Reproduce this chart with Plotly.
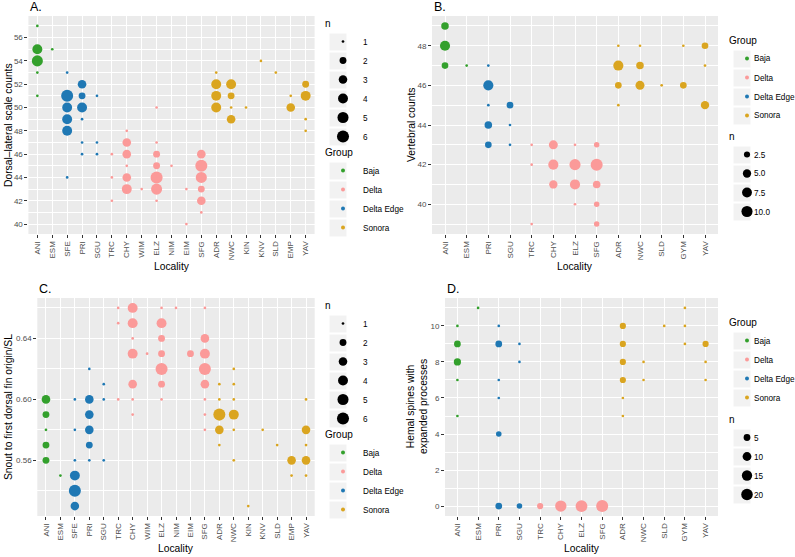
import math
import plotly.graph_objects as go

W, H = 795, 557
FONT = "Liberation Sans, Arial, Helvetica, sans-serif"

# ---------------- data ----------------
loc_19 = ["ANI", "ESM", "SFE", "PRI", "SGU", "TRC", "CHY", "WIM", "ELZ", "NIM",
          "EIM", "SFG", "ADR", "NWC", "KIN", "KNV", "SLD", "EMP", "YAV"]
loc_13 = ["ANI", "ESM", "PRI", "SGU", "TRC", "CHY", "ELZ", "SFG", "ADR", "NWC",
          "SLD", "GYM", "YAV"]

group_of = {"ANI": "Baja", "ESM": "Baja",
            "SFE": "Delta Edge", "PRI": "Delta Edge", "SGU": "Delta Edge",
            "TRC": "Delta", "CHY": "Delta", "WIM": "Delta", "ELZ": "Delta",
            "NIM": "Delta", "EIM": "Delta", "SFG": "Delta",
            "ADR": "Sonora", "NWC": "Sonora", "KIN": "Sonora", "KNV": "Sonora",
            "SLD": "Sonora", "EMP": "Sonora", "YAV": "Sonora", "GYM": "Sonora"}
group_names = ["Baja", "Delta", "Delta Edge", "Sonora"]
group_colors = ["#33A02C", "#FB9A99", "#1F78B4", "#DAA520"]

# A. Dorsal-lateral scale counts
a_loc = ["ANI"] * 5 + ["ESM"] + ["SFE"] * 6 + ["PRI"] * 6 + ["SGU"] * 3 + ["TRC"] * 3 + \
        ["CHY"] * 6 + ["WIM"] + ["ELZ"] * 7 + ["NIM"] + ["EIM"] * 2 + ["SFG"] * 6 + \
        ["ADR"] * 4 + ["NWC"] * 4 + ["KIN"] + ["KNV"] + ["SLD"] + ["EMP"] * 2 + ["YAV"] * 4
a_val = [57, 55, 54, 53, 51,
         55,
         53, 51, 50, 49, 48, 44,
         52, 51, 50, 49, 47, 46,
         51, 47, 46,
         46, 44, 42,
         48, 47, 46, 45, 44, 43,
         43,
         50, 47, 46, 45, 44, 43, 42,
         45,
         43, 40,
         46, 45, 44, 43, 42, 41,
         53, 52, 51, 50,
         52, 51, 50, 49,
         50,
         54,
         53,
         51, 50,
         52, 51, 49, 48]
a_n = [1, 4, 5, 1, 1,
       1,
       1, 6, 4, 4, 4, 1,
       3, 2, 4, 1, 1, 1,
       1, 1, 1,
       1, 1, 1,
       1, 3, 3, 1, 3, 4,
       1,
       1, 1, 2, 2, 6, 5, 1,
       1,
       1, 1,
       3, 6, 5, 2, 3, 1,
       1, 4, 4, 4,
       4, 2, 1, 3,
       1,
       1,
       1,
       1, 3,
       2, 4, 1, 1]

# B. Vertebral counts
b_loc = ["ANI"] * 3 + ["ESM"] + ["PRI"] * 5 + ["SGU"] * 3 + ["TRC"] * 3 + ["CHY"] * 3 + \
        ["ELZ"] * 4 + ["SFG"] * 5 + ["ADR"] * 4 + ["NWC"] * 3 + ["SLD"] + ["GYM"] * 2 + ["YAV"] * 3
b_val = [49, 48, 47,
         47,
         47, 46, 45, 44, 43,
         45, 44, 43,
         43, 42, 39,
         43, 42, 41,
         43, 42, 41, 40,
         43, 42, 41, 40, 39,
         48, 47, 46, 45,
         48, 47, 46,
         46,
         48, 46,
         48, 47, 45]
b_n = [4, 8, 3,
       1,
       1, 8, 1, 4, 3,
       3, 1, 1,
       1, 1, 1,
       6, 8, 5,
       1, 10, 8, 1,
       2, 12, 4, 2, 2,
       1, 8, 3, 1,
       1, 4, 6,
       1,
       1, 3,
       3, 1, 5]

# C. Snout to first dorsal fin origin / SL
c_loc = ["ANI"] * 5 + ["ESM"] + ["SFE"] * 6 + ["PRI"] * 6 + ["SGU"] * 3 + ["TRC"] * 3 + \
        ["CHY"] * 7 + ["WIM"] + ["ELZ"] * 7 + ["NIM"] + ["EIM"] + ["SFG"] * 8 + \
        ["ADR"] * 5 + ["NWC"] * 6 + ["KIN"] + ["KNV"] + ["SLD"] + ["EMP"] * 2 + ["YAV"] * 5
c_val = [0.60, 0.59, 0.58, 0.57, 0.56,
         0.55,
         0.60, 0.58, 0.56, 0.55, 0.54, 0.53,
         0.62, 0.60, 0.59, 0.58, 0.57, 0.56,
         0.61, 0.60, 0.56,
         0.66, 0.65, 0.60,
         0.66, 0.65, 0.64, 0.63, 0.61, 0.60, 0.59,
         0.63,
         0.66, 0.65, 0.64, 0.63, 0.62, 0.61, 0.60,
         0.66,
         0.63,
         0.66, 0.64, 0.63, 0.62, 0.61, 0.60, 0.59, 0.58,
         0.61, 0.60, 0.59, 0.58, 0.57,
         0.62, 0.61, 0.60, 0.59, 0.58, 0.56,
         0.53,
         0.58,
         0.57,
         0.56, 0.55,
         0.60, 0.58, 0.57, 0.56, 0.55]
c_n = [3, 2, 1, 2, 2,
       1,
       1, 1, 1, 4, 6, 3,
       1, 3, 3, 3, 2, 1,
       1, 1, 1,
       1, 1, 1,
       4, 4, 1, 4, 3, 1, 1,
       1,
       1, 4, 2, 2, 6, 2, 1,
       1,
       2,
       1, 3, 4, 6, 3, 1, 1, 1,
       1, 1, 6, 3, 1,
       1, 1, 1, 4, 1, 1,
       1,
       1,
       1,
       3, 1,
       1, 3, 1, 3, 1]

# D. Hemal spines with expanded processes
d_loc = ["ANI"] * 5 + ["ESM"] + ["PRI"] * 6 + ["SGU"] * 3 + ["TRC"] + ["CHY"] + ["ELZ"] + \
        ["SFG"] + ["ADR"] * 6 + ["NWC"] * 2 + ["SLD"] + ["GYM"] * 3 + ["YAV"] * 3
d_val = [10, 9, 8, 7, 5,
         11,
         10, 9, 7, 6, 4, 0,
         9, 8, 0,
         0,
         0,
         0,
         0,
         10, 9, 8, 7, 6, 5,
         8, 7,
         10,
         11, 10, 9,
         9, 8, 7]
d_n = [1, 5, 6, 1, 1,
       1,
       1, 5, 1, 1, 3, 5,
       1, 1, 3,
       4,
       19,
       21,
       22,
       4, 4, 4, 4, 1, 1,
       1, 1,
       1,
       1, 1, 1,
       4, 1, 1]

n_breaks_a = [1, 2, 3, 4, 5, 6]
n_breaks_b = [2.5, 5.0, 7.5, 10.0]
n_labels_b = ["2.5", "5.0", "7.5", "10.0"]
n_breaks_c = [1, 2, 3, 4, 5, 6]
n_breaks_d = [5, 10, 15, 20]


# ---------------- helpers ----------------
def diam(n, lo, hi):
    s = 1 + 5 * math.sqrt((n - lo) / (hi - lo))
    return 1.87 * s + 0.8


def px_x(p):
    return p / W


def px_y(p):
    return 1 - p / H


LEG_FONT = 8.2
ITEM_H = 19      # plotly legend row height for small fonts
FIRST_OFF = 28   # legend top -> first key centre
KEY_OFF = 15     # legend x -> key centre
LABEL_GAP = 10   # key centre -> label start (for annotation labels)

panels = [
    dict(key="A", cats=loc_19, loc=a_loc, val=a_val, n=a_n,
         box=(28.4, 314.6, 16, 234), dt=2, mdt=1, fmt="d",
         ytitle="Dorsal\u2013lateral scale counts", ytx=8,
         nbreaks=n_breaks_a, nlabels=[str(v) for v in n_breaks_a],
         first="n", lx=323, ly1=14, ly2=143, native=True),
    dict(key="B", cats=loc_13, loc=b_loc, val=b_val, n=b_n,
         box=(432, 718, 16, 234), dt=2, mdt=1, fmt="d",
         ytitle="Vertebral counts", ytx=411,
         nbreaks=n_breaks_b, nlabels=n_labels_b,
         first="g", lx=727, ly1=31, ly2=127, native=False),
    dict(key="C", cats=loc_19, loc=c_loc, val=c_val, n=c_n,
         box=(37.3, 314.7, 298, 516), dt=0.04, mdt=0.02, fmt=".2f",
         ytitle="Snout to first dorsal fin origin/SL", ytx=8,
         nbreaks=n_breaks_c, nlabels=[str(v) for v in n_breaks_c],
         first="n", lx=323, ly1=296, ly2=425, native=True),
    dict(key="D", cats=loc_13, loc=d_loc, val=d_val, n=d_n,
         box=(445, 718, 298, 516), dt=2, mdt=1, fmt="d",
         ytitle="Hemal spines with<br>expanded processes", ytx=417,
         nbreaks=n_breaks_d, nlabels=[str(v) for v in n_breaks_d],
         first="g", lx=727, ly1=313, ly2=410, native=False),
]

fig = go.Figure()
layout = dict(template="none", width=W, height=H, autosize=False,
              margin=dict(l=0, r=0, t=0, b=0, pad=0, autoexpand=False),
              paper_bgcolor="white", plot_bgcolor="#EBEBEB",
              font=dict(family=FONT, color="#000000"), showlegend=True,
              annotations=[], shapes=[])


def legend_block(p, leg_id, y_top, title, labels, markers, xa, ya):
    """Add one legend (keys via plotly legend, optional annotation labels)."""
    for k, (lab, mk) in enumerate(zip(labels, markers)):
        fig.add_trace(go.Scatter(
            x=[None], y=[None], mode="markers", xaxis=xa, yaxis=ya,
            name=lab if p["native"] else "", legend=leg_id, marker=mk,
            hoverinfo="skip"))
        ky = y_top + FIRST_OFF + ITEM_H * k
        kx = p["lx"] + KEY_OFF
        layout["shapes"].append(dict(
            type="rect", xref="paper", yref="paper", layer="below",
            x0=px_x(kx - 8.5), x1=px_x(kx + 8.5), y0=px_y(ky + 8.5), y1=px_y(ky - 8.5),
            fillcolor="#F2F2F2", line=dict(width=0)))
        if not p["native"]:
            layout["annotations"].append(dict(
                text=lab, x=px_x(kx + LABEL_GAP), y=px_y(ky), xref="paper", yref="paper",
                xanchor="left", yanchor="middle", showarrow=False,
                font=dict(size=LEG_FONT, family=FONT, color="black")))
    layout[leg_id] = dict(
        x=px_x(p["lx"]), y=px_y(y_top), xanchor="left", yanchor="top",
        bgcolor="rgba(0,0,0,0)", borderwidth=0, itemsizing="trace",
        font=dict(size=LEG_FONT, family=FONT, color="#000000"),
        traceorder="normal", itemclick=False, itemdoubleclick=False,
        title=dict(text=title, font=dict(size=10, family=FONT, color="black")))


legend_idx = 0
for i, p in enumerate(panels):
    ax = "" if i == 0 else str(i + 1)
    xa, ya = "x" + ax, "y" + ax
    left, right, top, bottom = p["box"]
    lo, hi = min(p["n"]), max(p["n"])
    vmin, vmax = min(p["val"]), max(p["val"])
    pad = 0.05 * (vmax - vmin)
    ncat = len(p["cats"])

    # data traces, one per group
    for g, col in zip(group_names, group_colors):
        idx = [k for k, l in enumerate(p["loc"]) if group_of[l] == g]
        if not idx:
            continue
        fig.add_trace(go.Scatter(
            x=[p["loc"][k] for k in idx], y=[p["val"][k] for k in idx],
            customdata=[p["n"][k] for k in idx],
            mode="markers", xaxis=xa, yaxis=ya, showlegend=False, name=g,
            marker=dict(color=col, size=[diam(p["n"][k], lo, hi) for k in idx],
                        line=dict(width=0), opacity=1),
            hovertemplate="%{x}: %{y}, n=%{customdata}<extra>" + g + "</extra>"))

    # legends
    leg_n = "legend" if legend_idx == 0 else "legend%d" % (legend_idx + 1)
    leg_g = "legend%d" % (legend_idx + 2)
    legend_idx += 2
    if p["first"] == "n":
        y_n, y_g = p["ly1"], p["ly2"]
    else:
        y_g, y_n = p["ly1"], p["ly2"]

    legend_block(p, leg_n, y_n, "n", p["nlabels"],
                 [dict(color="black", size=diam(b, lo, hi), line=dict(width=0))
                  for b in p["nbreaks"]], xa, ya)
    legend_block(p, leg_g, y_g, "Group", group_names,
                 [dict(color=c, size=4, line=dict(width=0)) for c in group_colors], xa, ya)

    layout["xaxis" + ax] = dict(
        domain=[px_x(left), px_x(right)], anchor=ya, type="category", automargin=False,
        categoryorder="array", categoryarray=p["cats"],
        range=[-0.6, ncat - 1 + 0.6], showgrid=True, gridcolor="white", gridwidth=1.1,
        zeroline=False, showline=False, ticks="outside", ticklen=3, tickwidth=1,
        tickcolor="#333333", tickangle=-90,
        tickfont=dict(size=8, color="#4D4D4D", family=FONT), fixedrange=True)
    layout["yaxis" + ax] = dict(
        domain=[px_y(bottom), px_y(top)], anchor=xa, automargin=False,
        range=[vmin - pad, vmax + pad], tick0=0, dtick=p["dt"], tickformat=p["fmt"],
        showgrid=True, gridcolor="white", gridwidth=1.1, zeroline=False, showline=False,
        ticks="outside", ticklen=3, tickwidth=1, tickcolor="#333333",
        tickfont=dict(size=8, color="#4D4D4D", family=FONT),
        minor=dict(dtick=p["mdt"], tick0=0, showgrid=True, gridcolor="white",
                   gridwidth=0.55, ticks=""),
        fixedrange=True)

    # panel letter
    layout["annotations"].append(dict(
        text=p["key"] + ".", x=px_x(left), y=px_y(top - 9), xref="paper", yref="paper",
        xanchor="left", yanchor="middle", showarrow=False,
        font=dict(size=12.5, family=FONT, color="black")))
    # x title
    layout["annotations"].append(dict(
        text="Locality", x=px_x((left + right) / 2), y=px_y(bottom + 32), xref="paper",
        yref="paper", xanchor="center", yanchor="middle", showarrow=False,
        font=dict(size=10.3, family=FONT, color="black")))
    # y title
    layout["annotations"].append(dict(
        text=p["ytitle"], x=px_x(p["ytx"]), y=px_y((top + bottom) / 2), xref="paper",
        yref="paper", xanchor="center", yanchor="middle", showarrow=False, textangle=-90,
        font=dict(size=10.3, family=FONT, color="black")))

fig.update_layout(**layout)
fig.write_html("out.html",
               config={"displayModeBar": False},
               post_script="document.body.style.margin='0px';document.body.style.padding='0px';"
                           "document.documentElement.style.overflow='hidden';")
